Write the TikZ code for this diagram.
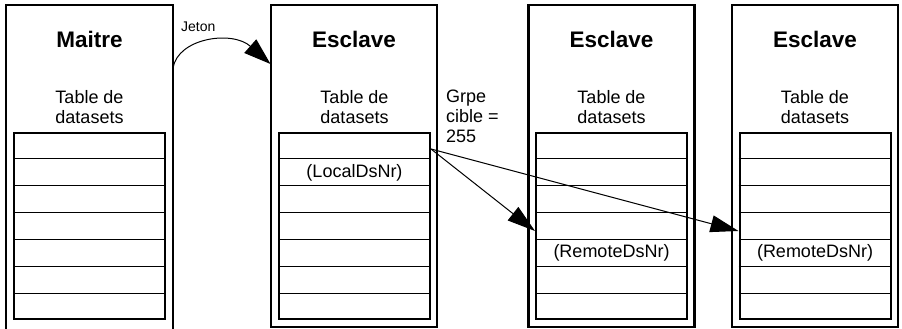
\documentclass[tikz,border=0pt]{standalone}
\usepackage{fontspec}
\setmainfont{Liberation Sans}
\usetikzlibrary{arrows.meta,calc}
\begin{document}
\begin{tikzpicture}[x=1pt,y=-1pt,
  outerbox/.style={draw, line width=2.5pt, inner sep=0pt, minimum width=166pt, minimum height=322pt},
  tbl/.style={draw, line width=2pt, inner sep=0pt, minimum width=151pt, minimum height=186pt},
  sepline/.style={line width=1.2pt},
  ttl/.style={font=\fontsize{22.5}{27}\selectfont\bfseries, inner sep=0pt},
  lbl/.style={font=\fontsize{18}{22}\selectfont, inner sep=0pt},
  small/.style={font=\fontsize{14}{17}\selectfont, inner sep=0pt},
  conn/.style={line width=1pt, -{Triangle[length=28pt,width=17pt]}}]
\useasboundingbox (0,0) rectangle (902,329);

% Maitre box (open at the bottom)
\draw[line width=2.5pt] (6,329) -- (6,5) -- (173,5) -- (173,329);
\coordinate (jstart) at (173,68);

% Esclave boxes
\node[outerbox] (b2) at (354,166) {};
\node[outerbox] (b3) at (611.5,166) {};
\node[outerbox] (b4) at (815,166) {};

% tables
\node[tbl] (t1) at (89.5,226) {};
\node[tbl] (t2) at (354.5,226) {};
\node[tbl] (t3) at (611.5,226) {};
\node[tbl] (t4) at (815,226) {};
\foreach \t in {t1,t2,t3,t4}{
  \foreach \i in {1,...,6}{
    \draw[sepline] ($(\t.north west)!\i/7!(\t.south west)$) -- ($(\t.north east)!\i/7!(\t.south east)$);
  }
}

% titles
\node[ttl] (h1) at (89.5,39.7) {Maitre};
\node[ttl] (h2) at (354,39.7) {Esclave};
\node[ttl] (h3) at (611.5,39.7) {Esclave};
\node[ttl] (h4) at (815,39.7) {Esclave};

% table captions
\node[lbl, anchor=base] (ca1) at (89.5,103.5) {Table de};
\node[lbl, anchor=base] (cb1) at (89.5,123.5) {datasets};
\node[lbl, anchor=base] (ca2) at (354.5,103.5) {Table de};
\node[lbl, anchor=base] (cb2) at (354.5,123.5) {datasets};
\node[lbl, anchor=base] (ca3) at (611.5,103.5) {Table de};
\node[lbl, anchor=base] (cb3) at (611.5,123.5) {datasets};
\node[lbl, anchor=base] (ca4) at (815,103.5) {Table de};
\node[lbl, anchor=base] (cb4) at (815,123.5) {datasets};

% cell texts
\node[lbl] (local) at (354.5,172.9) {(LocalDsNr)};
\node[lbl] (rem3) at (611.5,252.6) {(RemoteDsNr)};
\node[lbl] (rem4) at (815,252.6) {(RemoteDsNr)};

% Jeton
\node[small, anchor=base west] (jeton) at (181,32) {Jeton};
\coordinate (jend) at (270.5,64);
\draw[line width=1pt, -{Triangle[length=27pt,width=18pt]}] (jstart) .. controls (178,38) and (232,30) .. (jend);

% Grpe cible
\node[lbl, anchor=base west] (g1) at (446,102.5) {Grpe};
\node[lbl, anchor=base west] (g2) at (446,122.5) {cible =};
\node[lbl, anchor=base west] (g3) at (446,142.5) {255};

% connectors
\coordinate (src) at (431,149);
\coordinate (tip3) at (t3.west |- 0,231);
\coordinate (tip4) at (t4.west |- 0,231);
\draw[conn] (src) -- (tip3);
\draw[conn] (src) -- (tip4);
\end{tikzpicture}
\end{document}
